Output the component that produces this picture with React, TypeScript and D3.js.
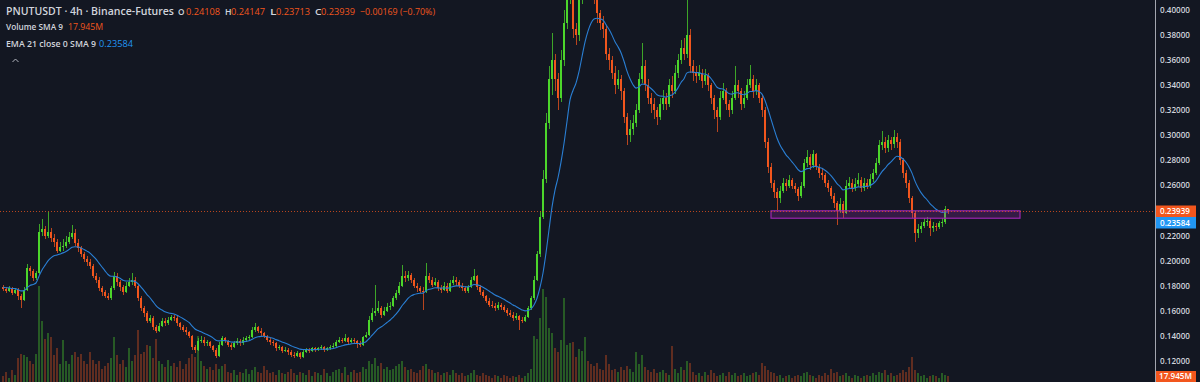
import React from 'react';
import * as d3 from 'd3';

// ---- Data (4h PNUTUSDT candles) ----
const firstOpen = 0.179;
const closes = [
  0.1775, 0.176, 0.178, 0.1745, 0.177, 0.172, 0.169, 0.177, 0.194, 0.192,
  0.186, 0.19, 0.223, 0.225, 0.22, 0.223, 0.218, 0.215, 0.208, 0.211,
  0.212, 0.215, 0.219, 0.222, 0.214, 0.21, 0.205, 0.201, 0.199, 0.196,
  0.188, 0.185, 0.178, 0.175, 0.172, 0.17, 0.178, 0.188, 0.183, 0.179,
  0.175, 0.18, 0.183, 0.185, 0.18, 0.17, 0.162, 0.158, 0.152, 0.154,
  0.147, 0.144, 0.148, 0.152, 0.15, 0.153, 0.155, 0.154, 0.15, 0.147,
  0.145, 0.143, 0.14, 0.131, 0.129, 0.136, 0.137, 0.134, 0.135, 0.132,
  0.129, 0.124, 0.133, 0.138, 0.136, 0.133, 0.131, 0.134, 0.136, 0.134,
  0.137, 0.138, 0.139, 0.145, 0.147, 0.144, 0.142, 0.14, 0.137, 0.135,
  0.134, 0.13, 0.131, 0.128, 0.129, 0.127, 0.125, 0.124, 0.126, 0.123,
  0.127, 0.129, 0.128, 0.13, 0.129, 0.13, 0.131, 0.129, 0.13, 0.131,
  0.132, 0.135, 0.137, 0.136, 0.138, 0.135, 0.137, 0.136, 0.134, 0.133,
  0.139, 0.141, 0.153, 0.158, 0.16, 0.162, 0.157, 0.16, 0.163, 0.164,
  0.17, 0.174, 0.18, 0.188, 0.186, 0.189, 0.185, 0.18, 0.178, 0.176,
  0.175, 0.188, 0.185, 0.181, 0.183, 0.178, 0.177, 0.18, 0.176, 0.182,
  0.185, 0.183, 0.18, 0.178, 0.176, 0.179, 0.185, 0.188, 0.179, 0.175,
  0.172, 0.168, 0.165, 0.164, 0.162, 0.165, 0.163, 0.161, 0.158, 0.157,
  0.154, 0.156, 0.153, 0.152, 0.155, 0.162, 0.17, 0.185, 0.205, 0.235,
  0.265, 0.31, 0.345, 0.36, 0.345, 0.33, 0.36, 0.39, 0.425, 0.44,
  0.385, 0.38, 0.41, 0.44, 0.45, 0.44, 0.43, 0.415, 0.398, 0.39,
  0.385, 0.365, 0.36, 0.35, 0.34, 0.345, 0.335, 0.315, 0.3, 0.305,
  0.31, 0.32, 0.345, 0.355, 0.34, 0.33, 0.325, 0.32, 0.315, 0.325,
  0.33, 0.325, 0.34, 0.335, 0.35, 0.36, 0.37, 0.365, 0.38, 0.355,
  0.35, 0.347, 0.35, 0.343, 0.348, 0.34, 0.33, 0.32, 0.315, 0.33,
  0.335, 0.325, 0.32, 0.33, 0.34, 0.335, 0.325, 0.33, 0.34, 0.345,
  0.335, 0.34, 0.33, 0.32, 0.295, 0.275, 0.262, 0.255, 0.25, 0.256,
  0.262, 0.26, 0.264, 0.26, 0.257, 0.252, 0.26, 0.278, 0.283, 0.276,
  0.285, 0.275, 0.27, 0.268, 0.262, 0.258, 0.252, 0.246, 0.24, 0.245,
  0.238, 0.26, 0.262, 0.258, 0.261, 0.264, 0.258, 0.262, 0.26, 0.265,
  0.27, 0.278, 0.292, 0.295, 0.29, 0.296, 0.293, 0.299, 0.295, 0.28,
  0.27, 0.262, 0.25, 0.238, 0.222, 0.225, 0.228, 0.231, 0.232, 0.226,
  0.228, 0.227, 0.23, 0.231, 0.24108, 0.23939,
];
const highs = [
  0.1805, 0.179, 0.1795, 0.179, 0.1785, 0.178, 0.1735, 0.179, 0.1975, 0.196,
  0.1935, 0.192, 0.229, 0.233, 0.228, 0.2385, 0.226, 0.221, 0.217, 0.215,
  0.217, 0.22, 0.223, 0.2285, 0.225, 0.217, 0.212, 0.207, 0.204, 0.201,
  0.1975, 0.19, 0.187, 0.18, 0.177, 0.174, 0.18, 0.191, 0.19, 0.185,
  0.181, 0.183, 0.186, 0.19, 0.187, 0.181, 0.172, 0.164, 0.16, 0.157,
  0.156, 0.149, 0.15, 0.1545, 0.154, 0.155, 0.157, 0.157, 0.1555, 0.151,
  0.149, 0.147, 0.144, 0.141, 0.133, 0.138, 0.14, 0.139, 0.137, 0.136,
  0.133, 0.13, 0.135, 0.14, 0.1395, 0.137, 0.1345, 0.136, 0.138, 0.1375,
  0.139, 0.14, 0.141, 0.147, 0.1505, 0.148, 0.146, 0.143, 0.141, 0.1385,
  0.137, 0.135, 0.133, 0.132, 0.131, 0.13, 0.1285, 0.127, 0.128, 0.127,
  0.129, 0.1305, 0.13, 0.1315, 0.131, 0.1315, 0.1325, 0.132, 0.1315, 0.1325,
  0.134, 0.137, 0.139, 0.1385, 0.1413, 0.139, 0.1385, 0.138, 0.137, 0.136,
  0.14, 0.143, 0.156, 0.162, 0.1806, 0.168, 0.164, 0.163, 0.166, 0.167,
  0.172, 0.177, 0.183, 0.1966, 0.192, 0.192, 0.19, 0.186, 0.182, 0.18,
  0.179, 0.1982, 0.19, 0.187, 0.186, 0.185, 0.181, 0.183, 0.182, 0.185,
  0.188, 0.187, 0.185, 0.182, 0.18, 0.181, 0.187, 0.1934, 0.189, 0.181,
  0.177, 0.173, 0.17, 0.168, 0.166, 0.167, 0.1665, 0.165, 0.162, 0.161,
  0.159, 0.158, 0.157, 0.155, 0.157, 0.164, 0.172, 0.188, 0.208, 0.24,
  0.272, 0.318, 0.355, 0.382, 0.365, 0.35, 0.368, 0.4, 0.44, 0.46,
  0.445, 0.39, 0.42, 0.45, 0.465, 0.46, 0.45, 0.435, 0.418, 0.4,
  0.395, 0.387, 0.37, 0.363, 0.355, 0.352, 0.348, 0.338, 0.318, 0.312,
  0.316, 0.325, 0.35, 0.3737, 0.36, 0.345, 0.334, 0.33, 0.323, 0.33,
  0.336, 0.334, 0.345, 0.347, 0.356, 0.365, 0.376, 0.378, 0.408, 0.385,
  0.36, 0.355, 0.356, 0.353, 0.353, 0.35, 0.342, 0.332, 0.323, 0.335,
  0.342, 0.338, 0.328, 0.335, 0.355, 0.344, 0.338, 0.335, 0.345, 0.3562,
  0.348, 0.345, 0.342, 0.332, 0.323, 0.298, 0.278, 0.264, 0.258, 0.26,
  0.266, 0.265, 0.268, 0.266, 0.262, 0.259, 0.263, 0.281, 0.288, 0.285,
  0.288, 0.286, 0.277, 0.274, 0.27, 0.264, 0.26, 0.254, 0.248, 0.25,
  0.248, 0.264, 0.267, 0.265, 0.266, 0.27, 0.267, 0.266, 0.265, 0.269,
  0.273, 0.282, 0.296, 0.3035, 0.299, 0.3, 0.299, 0.3044, 0.302, 0.297,
  0.282, 0.272, 0.264, 0.252, 0.24, 0.229, 0.231, 0.234, 0.235, 0.234,
  0.231, 0.23, 0.232, 0.234, 0.244, 0.24147,
];
const lows = [
  0.1755, 0.1745, 0.175, 0.173, 0.1735, 0.169, 0.1625, 0.168, 0.176, 0.188,
  0.184, 0.1845, 0.189, 0.22, 0.217, 0.218, 0.215, 0.211, 0.206, 0.207,
  0.208, 0.21, 0.213, 0.217, 0.212, 0.207, 0.203, 0.199, 0.196, 0.193,
  0.186, 0.182, 0.176, 0.172, 0.17, 0.1687, 0.169, 0.177, 0.18, 0.176,
  0.173, 0.174, 0.179, 0.181, 0.178, 0.168, 0.16, 0.155, 0.15, 0.15,
  0.145, 0.142, 0.143, 0.147, 0.148, 0.149, 0.152, 0.152, 0.148, 0.145,
  0.143, 0.141, 0.138, 0.129, 0.126, 0.128, 0.134, 0.132, 0.132, 0.13,
  0.127, 0.122, 0.123, 0.132, 0.134, 0.131, 0.129, 0.13, 0.133, 0.132,
  0.133, 0.135, 0.136, 0.138, 0.143, 0.142, 0.14, 0.138, 0.135, 0.133,
  0.132, 0.128, 0.129, 0.126, 0.127, 0.125, 0.123, 0.122, 0.123, 0.1215,
  0.122, 0.126, 0.1265, 0.127, 0.1275, 0.128, 0.129, 0.1275, 0.128, 0.129,
  0.13, 0.131, 0.134, 0.134, 0.135, 0.133, 0.134, 0.134, 0.1305, 0.131,
  0.132, 0.138, 0.14, 0.151, 0.156, 0.158, 0.154, 0.156, 0.159, 0.161,
  0.163, 0.169, 0.173, 0.179, 0.183, 0.184, 0.182, 0.178, 0.175, 0.174,
  0.1607, 0.174, 0.182, 0.179, 0.18, 0.176, 0.174, 0.176, 0.174, 0.175,
  0.181, 0.18, 0.178, 0.176, 0.174, 0.1745, 0.178, 0.184, 0.177, 0.173,
  0.17, 0.166, 0.163, 0.162, 0.16, 0.161, 0.161, 0.159, 0.156, 0.155,
  0.152, 0.153, 0.1448, 0.15, 0.151, 0.154, 0.161, 0.169, 0.184, 0.203,
  0.233, 0.262, 0.305, 0.332, 0.335, 0.32, 0.327, 0.355, 0.385, 0.405,
  0.378, 0.372, 0.375, 0.405, 0.43, 0.425, 0.42, 0.405, 0.39, 0.384,
  0.378, 0.36, 0.352, 0.345, 0.333, 0.337, 0.328, 0.31, 0.292, 0.295,
  0.3, 0.307, 0.318, 0.342, 0.335, 0.325, 0.318, 0.313, 0.308, 0.312,
  0.32, 0.32, 0.323, 0.33, 0.333, 0.346, 0.357, 0.36, 0.362, 0.35,
  0.343, 0.342, 0.344, 0.338, 0.34, 0.335, 0.325, 0.313, 0.3027, 0.312,
  0.328, 0.32, 0.315, 0.317, 0.328, 0.33, 0.32, 0.322, 0.328, 0.338,
  0.33, 0.332, 0.326, 0.315, 0.29, 0.27, 0.258, 0.25, 0.2405, 0.246,
  0.254, 0.256, 0.258, 0.257, 0.254, 0.248, 0.25, 0.258, 0.275, 0.272,
  0.274, 0.272, 0.266, 0.264, 0.259, 0.255, 0.249, 0.242, 0.2285, 0.238,
  0.234, 0.237, 0.257, 0.255, 0.256, 0.259, 0.255, 0.256, 0.257, 0.258,
  0.263, 0.268, 0.276, 0.288, 0.286, 0.287, 0.288, 0.29, 0.29, 0.276,
  0.266, 0.258, 0.246, 0.234, 0.215, 0.218, 0.222, 0.226, 0.228, 0.22,
  0.223, 0.224, 0.225, 0.227, 0.229, 0.23713,
];
// volume in millions
const volumes = [
  20, 35, 15, 40, 25, 80, 95, 90, 85, 70,
  60, 95, 320, 205, 145, 165, 150, 90, 115, 60,
  140, 70, 60, 90, 100, 85, 95, 70, 60, 100,
  75, 60, 70, 45, 55, 65, 80, 150, 90, 60,
  75, 50, 115, 70, 90, 175, 95, 100, 125, 120,
  80, 145, 70, 60, 50, 75, 55, 65, 50, 70,
  45, 60, 80, 95, 85, 155, 70, 55, 45, 50,
  40, 60, 45, 55, 60, 35, 30, 40, 25, 35,
  30, 45, 28, 40, 50, 35, 30, 55, 40, 30,
  35, 25, 40, 30, 28, 35, 45, 30, 25, 35,
  30, 25, 40, 20, 35, 30, 25, 45, 30, 20,
  35, 40, 45, 30, 50, 25, 35, 40, 30, 35,
  50, 45, 70, 60, 80, 55, 65, 45, 50, 40,
  45, 55, 60, 70, 50, 40, 45, 35, 30, 40,
  55, 60, 45, 40, 30, 35, 25, 30, 35, 25,
  40, 30, 25, 30, 20, 25, 30, 40, 25, 20,
  30, 25, 20, 15, 25, 20, 15, 25, 20, 15,
  20, 18, 25, 15, 20, 30, 45, 155, 145, 215,
  310, 285, 180, 165, 115, 100, 140, 280, 125, 130,
  135, 85, 110, 105, 150, 70, 60, 55, 65, 45,
  40, 90, 60, 40, 45, 35, 50, 40, 55, 45,
  35, 100, 60, 90, 50, 40, 35, 45, 30, 35,
  40, 30, 25, 120, 45, 30, 50, 40, 70, 65,
  35, 25, 30, 20, 35, 25, 40, 30, 20, 25,
  30, 20, 35, 25, 30, 20, 25, 30, 20, 25,
  30, 35, 25, 65, 55, 40, 35, 30, 20, 25,
  15, 20, 25, 15, 20, 25, 20, 30, 35, 25,
  20, 15, 25, 20, 30, 25, 45, 30, 35, 20,
  25, 30, 20, 15, 25, 20, 15, 20, 25, 20,
  30, 25, 35, 30, 40, 25, 30, 20, 25, 30,
  40, 35, 50, 85, 40, 30, 20, 25, 15, 20,
  25, 20, 15, 30, 25, 20,
];
const priceTicks = [0.4, 0.38, 0.36, 0.34, 0.32, 0.3, 0.28, 0.26, 0.22, 0.2, 0.18, 0.16, 0.14, 0.12];
const emaLength = 14; // EMA 21 on the original (denser) bar grid
const emaSeed = 0.179;
const lastPrice = 0.23939;
const emaLast = 0.23584;
const volSma = '17.945M';
const zone = { startBar: 256, endBar: 339, top: 0.2398, bottom: 0.2339 };
const legendTitle = 'PNUTUSDT · 4h · Binance-Futures';
const ohlcLabels = ['O', 'H', 'L', 'C'];
const ohlcValues = ['0.24108', '0.24147', '0.23713', '0.23939'];
const changeText = '−0.00169 (−0.70%)';

const W = 1200;
const H = 382;
const PLOT_R = 1155;
const UP = '#4cd62b';
const DOWN = '#f2561d';
const TEXT = '#d1d4dc';
const BLUE = '#2196f3';
const FONT = '"Open Sans", "Noto Sans", sans-serif';

export default function App() {
  const n = closes.length;
  const opens = closes.map((c, i) => (i === 0 ? firstOpen : closes[i - 1]));
  const x = d3.scaleLinear().domain([0, n - 1]).range([3, 3 + 3 * (n - 1)]);
  const y = d3.scaleLinear().domain([0.12, 0.4]).range([361, 10]);
  const v = d3.scaleLinear().domain([0, 320]).range([H, 286]);

  const alpha = 2 / (emaLength + 1);
  const ema: number[] = [];
  let e = emaSeed;
  closes.forEach((c) => {
    e = alpha * c + (1 - alpha) * e;
    ema.push(e);
  });
  const emaPath = d3
    .line<number>()
    .x((_, i) => x(i))
    .y((d) => y(d))
    .curve(d3.curveMonotoneX)(ema) as string;

  const lastY = Math.round(y(lastPrice)) + 0.5;
  const ohlcX = [178, 225, 270, 315];
  const ohlcValX = [186, 231, 276, 321];
  const lg = { lengthAdjust: 'spacingAndGlyphs' as const };

  return (
    <svg
      width={W}
      height={H}
      style={{ position: 'fixed', left: 0, top: 0, display: 'block' }}
      fontFamily={FONT}
    >
      <defs>
        <clipPath id="plot">
          <rect x={0} y={0} width={PLOT_R} height={H} />
        </clipPath>
      </defs>
      <rect x={0} y={0} width={W} height={H} fill="#131722" />
      <g clipPath="url(#plot)">
        {/* volume */}
        <g shapeRendering="crispEdges">
          {volumes.slice(0, n).map((vol, i) => (
            <rect
              key={'v' + i}
              x={x(i) - 1}
              y={v(vol)}
              width={2}
              height={H - v(vol)}
              fill={closes[i] >= opens[i] ? UP : DOWN}
              opacity={0.35}
            />
          ))}
        </g>
        {/* candles */}
        <g shapeRendering="crispEdges">
          {closes.map((c, i) => {
            const o = opens[i];
            const up = c >= o;
            const col = up ? UP : DOWN;
            const top = y(Math.max(o, c));
            const bot = y(Math.min(o, c));
            return (
              <g key={'c' + i}>
                <rect x={x(i) - 0.5} y={y(highs[i])} width={1} height={Math.max(1, y(lows[i]) - y(highs[i]))} fill={col} opacity={0.75} />
                <rect x={x(i) - 1} y={top} width={2} height={Math.max(1, bot - top)} fill={col} />
              </g>
            );
          })}
        </g>
        <path d={emaPath} fill="none" stroke="#2a7fd4" strokeWidth={1.1} />
        {/* zone */}
        <rect
          x={x(zone.startBar)}
          y={y(zone.top)}
          width={x(zone.endBar) - x(zone.startBar)}
          height={y(zone.bottom) - y(zone.top)}
          fill="#9c27b0"
          fillOpacity={0.25}
          stroke="#9c27b0"
          strokeWidth={1.2}
        />
        <line x1={0} x2={PLOT_R} y1={lastY} y2={lastY} stroke={DOWN} strokeOpacity={0.75} strokeDasharray="1 2" />
      </g>

      {/* price scale */}
      <line x1={PLOT_R + 0.5} x2={PLOT_R + 0.5} y1={0} y2={H} stroke="#a3a6af" strokeWidth={1} />
      {priceTicks.map((t) => (
        <text key={'t' + t} x={1160} y={y(t)} dy="0.35em" fontSize={8.2} fill={TEXT} fontWeight={600} textLength={30} {...lg}>
          {t.toFixed(5)}
        </text>
      ))}
      <rect x={PLOT_R + 1} y={205.5} width={40} height={11.5} fill={DOWN} />
      <text x={1160} y={211.3} dy="0.35em" fontSize={8.2} fill="#ffffff" fontWeight={600} textLength={30} {...lg}>
        {lastPrice.toFixed(5)}
      </text>
      <rect x={PLOT_R + 1} y={217} width={40} height={11.5} fill={BLUE} />
      <text x={1160} y={222.8} dy="0.35em" fontSize={8.2} fill="#ffffff" fontWeight={600} textLength={30} {...lg}>
        {emaLast.toFixed(5)}
      </text>
      <rect x={PLOT_R + 1} y={371} width={40} height={11} fill={DOWN} />
      <text x={1159} y={376.6} dy="0.35em" fontSize={8.2} fill="#ffffff" fontWeight={600} textLength={33} {...lg}>
        {volSma}
      </text>

      {/* legend */}
      <text x={6} y={15} fontSize={10.3} fill={TEXT} fontWeight={600} textLength={168} {...lg}>
        {legendTitle}
      </text>
      {ohlcLabels.map((l, i) => (
        <g key={l}>
          <text x={ohlcX[i]} y={15} fontSize={9.6} fill={TEXT} fontWeight={600} textLength={6.5} {...lg}>
            {l}
          </text>
          <text x={ohlcValX[i]} y={15} fontSize={9.2} fill={DOWN} fontWeight={500} textLength={34} {...lg}>
            {ohlcValues[i]}
          </text>
        </g>
      ))}
      <text x={360} y={15} fontSize={9.4} fill={DOWN} fontWeight={500} textLength={75} {...lg}>
        {changeText}
      </text>
      <text x={6} y={29.5} fontSize={8.9} fill={TEXT} fontWeight={600} textLength={57} {...lg}>
        Volume SMA 9
      </text>
      <text x={68} y={29.5} fontSize={8.7} fill={DOWN} fontWeight={500} textLength={35} {...lg}>
        {volSma}
      </text>
      <text x={6} y={46.5} fontSize={8.6} fill={TEXT} fontWeight={600} textLength={90} {...lg}>
        EMA 21 close 0 SMA 9
      </text>
      <text x={99} y={46.5} fontSize={9.2} fill={BLUE} fontWeight={500} textLength={34} {...lg}>
        {emaLast.toFixed(5)}
      </text>
      <path d="M12.5,62 L15.5,59 L18.5,62" fill="none" stroke="#b2b5be" strokeWidth={1} />
    </svg>
  );
}
